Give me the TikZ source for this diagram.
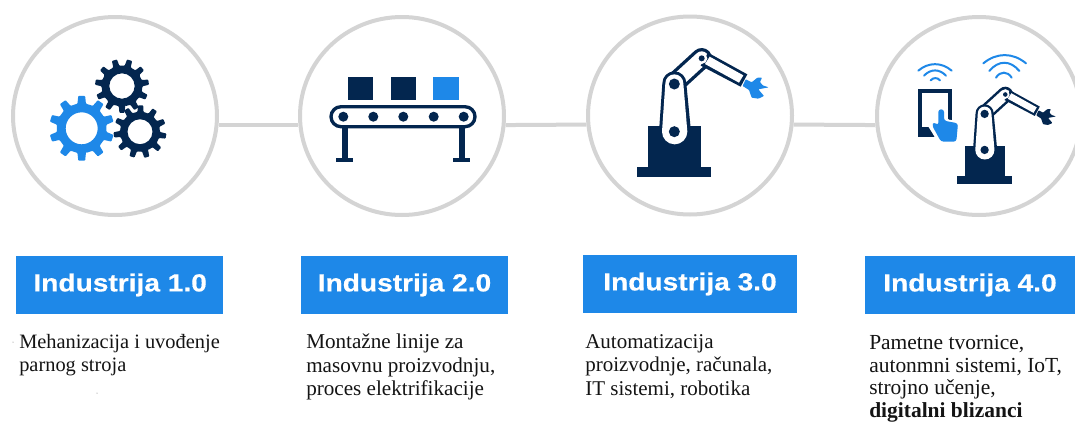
\documentclass[tikz,border=0pt]{standalone}
\usepackage{fontspec}
\setmainfont{Liberation Serif}
\newfontfamily\headfont[FakeStretch=1.14,FakeBold=0.5]{Liberation Sans}
\usetikzlibrary{calc,shapes.geometric}
\definecolor{navy}{HTML}{03264F}
\definecolor{sky}{HTML}{1E88E8}
\definecolor{ringgrey}{HTML}{D4D4D4}
\tikzset{
  ring/.style={ellipse,draw=ringgrey,line width=3pt,minimum width=153pt,minimum height=148.5pt,inner sep=0pt,fill=white},
  conn/.style={draw=ringgrey,line width=3pt},
  headbox/.style={fill=sky,text=white,minimum height=43.5pt,inner sep=0pt,font=\headfont\bfseries\fontsize{18.5}{20}\selectfont},
  bodytext/.style={anchor=north west,align=left,inner sep=0pt,text=black!92,font=\fontsize{#1}{17.6}\selectfont},
  wifi/.style={draw=sky,line width=1.5pt,line cap=round}
}
% gear: outer r, root r, hole r, teeth, start angle, colour
\newcommand{\gearicon}[6]{%
  \pgfmathsetmacro{\gstep}{360/#4}%
  \pgfmathsetmacro{\gwa}{\gstep*0.17}%
  \pgfmathsetmacro{\gwb}{\gstep*0.27}%
  \fill[#6,even odd rule,rounded corners=0.6pt]
    ({#5-\gwb}:#2)
    \foreach \k in {1,...,#4}{
      -- ({#5+(\k-1)*\gstep-\gwb}:#2)
      -- ({#5+(\k-1)*\gstep-\gwa}:#1)
      -- ({#5+(\k-1)*\gstep+\gwa}:#1)
      -- ({#5+(\k-1)*\gstep+\gwb}:#2)
    } -- cycle (0,0) circle (#3);
}
% robot: offset x, offset y, scale, gripper colour
\newcommand{\roboticon}[4]{%
\begin{scope}[x={#3*0.25pt},y={-#3*0.25pt},shift={(#1,#2)}]
  \fill[navy] (205,378) rectangle (362,500);
  \fill[navy] (172,500) rectangle (393,530);
  % upper arm
  \draw[navy,line width={#3*62pt*0.25},line cap=round] (283,250) -- (365,175);
  \draw[white,line width={#3*42pt*0.25},line cap=round] (283,250) -- (365,175);
  % forearm
  \fill[navy] (384,158) -- (502,223) -- (482,260) -- (362,197) -- cycle;
  \fill[white] (389,170) -- (490,226) -- (477,248) -- (375,192) -- cycle;
  % elbow joint
  \fill[white] (365,175) circle (17);
  \fill[navy] (365,175) circle (9);
  % lower arm
  \fill[navy] (247,250) arc[start angle=180,end angle=360,radius=36] -- (333,395) arc[start angle=0,end angle=180,radius=48] -- cycle;
  \fill[white] (256,250) arc[start angle=180,end angle=360,radius=27] -- (322,395) arc[start angle=0,end angle=180,radius=38] -- cycle;
  \fill[navy] (283,252) circle (16.5);
  \fill[navy] (283,395) circle (16.5);
  % gripper
  \fill[#4,rounded corners=0.5pt] (497,238) -- (515,247) -- (532,233) -- (546,233) -- (540,246) -- (548,256) -- (566,262) -- (535,268) -- (552,288) -- (535,296) -- (515,293) -- (507,270) -- (488,258) -- cycle;
\end{scope}}
\begin{document}
\begin{tikzpicture}[x=0.75pt,y=-0.75pt]
\useasboundingbox (0,0) rectangle (1075,422);
\fill[white] (0,0) rectangle (1075,422);
% rings
\node[ring] (c1) at (115,116) {};
\node[ring] (c2) at (402,116) {};
\node[ring] (c3) at (690,115.5) {};
\node[ring] (c4) at (979,116) {};
\draw[conn] (c1.-5.6) -- (c2.185.6);
\draw[conn] (c2.-5.6) -- (c3.185.6);
\draw[conn] (c3.-5.6) -- (c4.185.6);
% gears
\begin{scope}[shift={(81.7,128.3)}]\gearicon{32.5}{25}{16}{10}{90}{sky}\end{scope}
\begin{scope}[shift={(122,86)}]\gearicon{27}{20.5}{12.7}{11}{90}{navy}\end{scope}
\begin{scope}[shift={(140,131.7)}]\gearicon{26.5}{20}{12.5}{11}{75}{navy}\end{scope}
% conveyor
\fill[navy] (347.7,76.7) rectangle (373,100.3);
\fill[navy] (390.7,76.7) rectangle (416,100.3);
\fill[sky] (433.3,76.7) rectangle (458.7,100.3);
\fill[navy] (342,128) rectangle (348,159);
\fill[navy] (458.7,128) rectangle (464.7,159);
\fill[navy] (336,158.3) rectangle (353.3,162.3);
\fill[navy] (452.7,158.3) rectangle (470.3,162.3);
\draw[navy,line width=2.5pt,rounded corners=7.5pt,fill=white] (331,106.7) rectangle (475,126.7);
\foreach \rx in {343.3,373.3,403.3,433.7,463.7}{\fill[navy] (\rx,116.7) circle (5);}
% robots
\roboticon{1740}{0}{1}{sky}
\roboticon{3624.3}{200}{0.756}{navy}
% tablet
\begin{scope}[x=0.25pt,y=-0.25pt,shift={(2580,0)}]
  \fill[navy] (175,268) rectangle (275,411);
  \fill[white] (187,280) rectangle (263,380);
  \fill[white] (187,380) -- (205,380) -- (225,411) -- (263,411) -- (263,380) -- cycle;
  \fill[white,rounded corners=2pt] (228,324) -- (258,320) -- (260,358) -- (300,364) -- (298,430) -- (235,432) -- (206,376) -- (226,364) -- cycle;
  \fill[sky,rounded corners=2pt] (235,328) -- (252,328) -- (252,362) -- (294,370) -- (289,425) -- (243,425) -- (216,376) -- (222,366) -- (235,376) -- cycle;
  \draw[wifi] (175,212) .. controls (205,186) and (245,186) .. (275,212);
  \draw[wifi] (192,227) .. controls (212,206) and (238,206) .. (258,227);
  \draw[wifi] (212,241) .. controls (220,232) and (232,232) .. (240,241);
  \draw[wifi] (370,190) .. controls (410,157) and (458,157) .. (498,190);
  \draw[wifi] (388,213) .. controls (415,180) and (451,180) .. (478,213);
  \draw[wifi] (408,233) .. controls (420,213) and (443,213) .. (455,233);
\end{scope}
% headers
\node[headbox,minimum width=155.25pt] (h1) at (119.5,285) {\hspace{1pt}Industrija 1.0};
\node[headbox,minimum width=155.25pt] (h2) at (404.5,285) {Industrija 2.0};
\node[headbox,minimum width=160.5pt] (h3) at (690,284) {Industrija 3.0};
\node[headbox,minimum width=157.5pt] (h4) at (970,285) {Industrija 4.0};
% body text
\node[bodytext=15.3] (t1) at (19,334) {Mehanizacija i uvođenje\\parnog stroja};
\node[bodytext=15.85] (t2) at (306,334) {Montažne linije za\\masovnu proizvodnju,\\proces elektrifikacije};
\node[bodytext=15.75] (t3) at (585,334) {Automatizacija\\proizvodnje, računala,\\IT sistemi, robotika};
\node[bodytext=16.1,font=\fontsize{16.1}{16.9}\selectfont] (t4) at (869,335) {Pametne tvornice,\\autonmni sistemi, IoT,\\strojno učenje,\\\textbf{digitalni blizanci}};
\fill[black!55] (13,342) circle (0.5);
\fill[black!55] (97,393) circle (0.5);
\end{tikzpicture}
\end{document}
